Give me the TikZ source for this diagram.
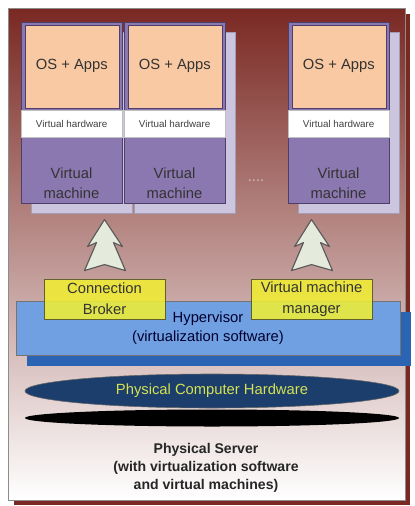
\documentclass[tikz,border=0pt]{standalone}
\usepackage{fontspec}
\setmainfont{Liberation Sans}
\usepackage{tikz}
\usetikzlibrary{shapes}
\usetikzlibrary{shadows}

\definecolor{framered}{RGB}{122,40,34}
\definecolor{vmpurple}{RGB}{140,120,176}
\definecolor{vmline}{RGB}{78,62,108}
\definecolor{ospeach}{RGB}{249,201,163}
\definecolor{vmshadow}{RGB}{204,197,223}
\definecolor{mgryellow}{RGB}{242,240,48}
\definecolor{mgrline}{RGB}{96,96,40}
\definecolor{hypblue}{RGB}{112,160,226}
\definecolor{hypshadow}{RGB}{44,100,180}
\definecolor{hwnavy}{RGB}{28,62,108}
\definecolor{hwtext}{RGB}{214,226,82}
\definecolor{arrowfill}{RGB}{228,235,220}

\begin{document}
\begin{tikzpicture}[x=0.025cm,y=-0.025cm,font=\fontsize{10.5}{14}\selectfont,
  vmbox/.style={shape=rectangle,minimum width=2.525cm,minimum height=4.525cm,inner sep=0,anchor=north west,fill=vmpurple,draw=vmline,line width=0.6pt,
    drop shadow={shadow xshift=0.25cm,shadow yshift=-0.25cm,fill=vmshadow,draw=vmshadow!80!black,line width=0.3pt,opacity=1}},
  osbox/.style={shape=rectangle,minimum width=2.35cm,minimum height=2.075cm,inner sep=0,anchor=north west,fill=ospeach,draw=vmline,line width=0.4pt,text=black!80},
  vhwbox/.style={shape=rectangle,minimum width=2.525cm,minimum height=0.675cm,inner sep=0,anchor=north west,fill=white,draw=black!25,line width=0.3pt,text=black!75,font=\fontsize{7}{8}\selectfont},
  vmtext/.style={align=center,text=black!80,inner sep=0},
  mgrbox/.style={shape=rectangle,minimum width=3.025cm,minimum height=1cm,inner sep=0,align=center,fill=mgryellow,fill opacity=0.85,text opacity=1,draw=mgrline,line width=0.6pt,text=black!80,font=\fontsize{10.5}{15}\selectfont},
  hypbox/.style={shape=rectangle,minimum width=9.6cm,minimum height=1.35cm,inner sep=0,align=center,fill=hypblue,draw=black!55,line width=0.5pt,text=black!70!blue!60!black,font=\fontsize{10.5}{13.5}\selectfont,
    drop shadow={shadow xshift=0.275cm,shadow yshift=-0.275cm,fill=hypshadow,opacity=1}},
  hwdisc/.style={shape=ellipse,minimum width=9.35cm,minimum height=0.85cm,inner sep=0,fill=hwnavy,draw=black!60,line width=0.4pt,text=hwtext},
  basedisc/.style={shape=ellipse,minimum width=9.35cm,minimum height=0.425cm,inner sep=0,fill=black},
  uparrow/.pic={\draw[fill=arrowfill,draw=black!65,line width=0.8pt,line join=round]
    (0,-59) -- (18,-32) -- (9,-36) -- (21,-8) -- (0,-14) -- (-20,-8) -- (-8,-36) -- (-17,-32) -- cycle;}]

\useasboundingbox (0,0) rectangle (414,506);
\fill[framered] (14,14) rectangle (410,505);
\shade[top color=framered,bottom color=white] (8,8) rectangle (405,500);
\draw[black!45,line width=0.6pt] (8,8) rectangle (405,500);

\foreach \x/\i in {21/1,124/2,288/3}{%
  \node[vmbox] (vm\i) at (\x,22) {};
  \node[osbox] (os\i) at (\x+3.5,24.5) {OS + Apps};
  \node[vhwbox] (vhw\i) at (\x,110) {Virtual hardware};
  \node[vmtext] (vmt\i) at (\x+50.5,183) {Virtual\\machine};}
\node[text=white!70!framered] (dots) at (256,181) {....};

\node[hypbox] (hyp) at (208,328) {Hypervisor\\(virtualization software)};
\node[mgrbox] (cb) at (104.5,299) {Connection\\Broker};
\node[mgrbox] (vmm) at (311.5,299) {Virtual machine\\manager};
\pic at (cb.north) {uparrow};
\pic at (vmm.north) {uparrow};

\node[hwdisc] (hw) at (212,391) {Physical Computer Hardware};
\node[basedisc] (base) at (212,418) {};

\node[align=center,text=black!85,font=\bfseries\fontsize{10}{12.8}\selectfont] (srv) at (206,468) {Physical Server\\(with virtualization software\\and virtual machines)};
\end{tikzpicture}
\end{document}
